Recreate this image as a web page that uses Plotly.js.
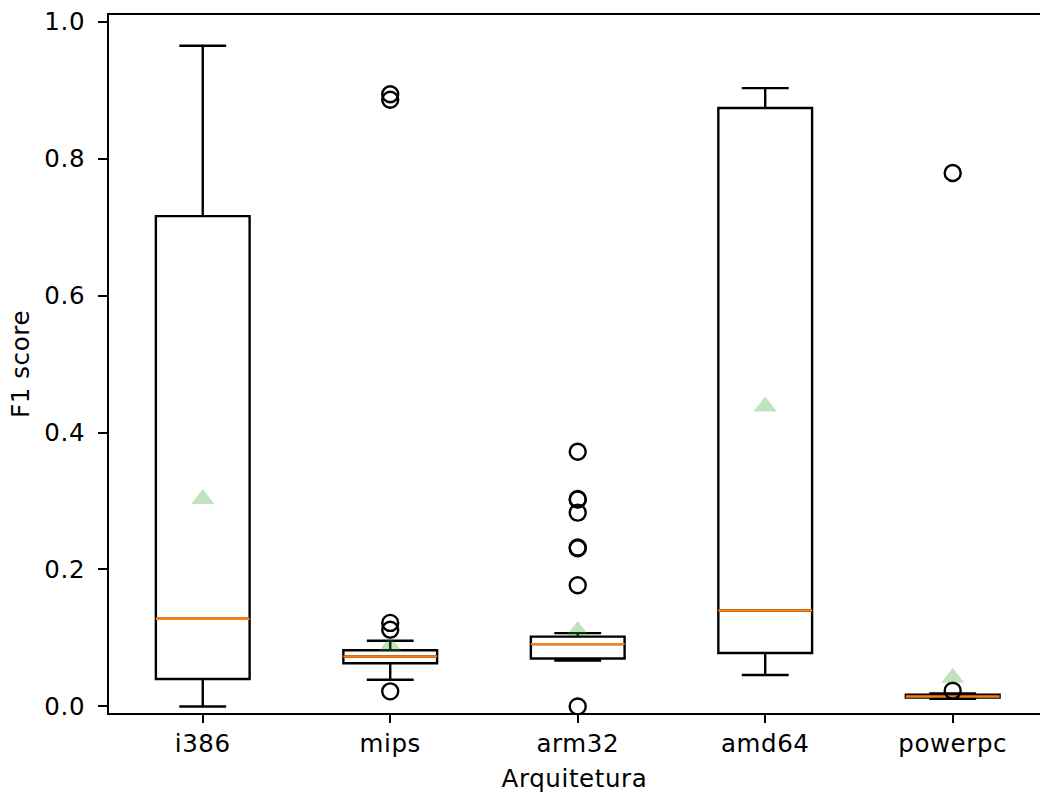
<!DOCTYPE html>
<html>
<head>
<meta charset="utf-8">
<script src="https://cdn.plot.ly/plotly-3.0.1.min.js"></script>
<style>html,body{margin:0;padding:0;background:#fff;}#chart{width:1040px;height:796px;}
#chart svg text{letter-spacing:0.6px;}</style>
</head>
<body>
<div id="chart"></div>
<script>
const categories = ["i386", "mips", "arm32", "amd64", "powerpc"];
const positions = [1, 2, 3, 4, 5];
const lowerWhisker = [0.0, 0.039, 0.067, 0.046, 0.011];
const q1 = [0.040, 0.063, 0.070, 0.078, 0.013];
const medians = [0.128, 0.073, 0.091, 0.140, 0.0146];
const q3 = [0.716, 0.082, 0.102, 0.874, 0.017];
const upperWhisker = [0.965, 0.096, 0.107, 0.903, 0.019];
const means = [0.303, 0.088, 0.110, 0.438, 0.042];
const outliers = [
  [],
  [0.022, 0.112, 0.122, 0.886, 0.894],
  [0.0, 0.177, 0.231, 0.232, 0.283, 0.302, 0.303, 0.372],
  [],
  [0.023, 0.779]
];

const FONT = "DejaVu Sans";
const FS = 24.5;
const LW = 2.4;
const halfWidth = 0.25;

const traces = [];
traces.push({
  type: "box",
  x: positions,
  q1: q1, median: medians, q3: q3,
  lowerfence: lowerWhisker, upperfence: upperWhisker,
  width: 0.5,
  whiskerwidth: 0.5,
  boxpoints: false,
  fillcolor: "rgba(255,255,255,0)",
  line: {color: "#000", width: LW},
  hoverinfo: "skip",
  showlegend: false
});
// medians (orange)
const mx = [], my = [];
positions.forEach((p, i) => {
  mx.push(p - halfWidth, p + halfWidth, null);
  my.push(medians[i], medians[i], null);
});
traces.push({
  type: "scatter", mode: "lines", x: mx, y: my,
  line: {color: "#ff7f0e", width: LW}, showlegend: false, hoverinfo: "skip"
});
// outliers
const ox = [], oy = [];
outliers.forEach((arr, i) => arr.forEach(v => { ox.push(positions[i]); oy.push(v); }));
traces.push({
  type: "scatter", mode: "markers", x: ox, y: oy,
  marker: {symbol: "circle-open", size: 16, color: "#000", line: {color: "#000", width: LW}},
  showlegend: false, hoverinfo: "skip"
});
// means
traces.push({
  type: "scatter", mode: "markers", x: positions, y: means,
  marker: {symbol: "triangle-up", size: 20, color: "rgba(44,160,44,0.3)", line: {width: 0}},
  showlegend: false, hoverinfo: "skip"
});

const layout = {
  width: 1040, height: 796,
  margin: {l: 109, r: 0, t: 15, b: 83, pad: 0},
  paper_bgcolor: "#fff", plot_bgcolor: "#fff",
  font: {family: FONT, size: FS, color: "#000"},
  xaxis: {
    range: [0.5, 5.4656],
    tickvals: positions, ticktext: categories,
    showgrid: false, zeroline: false,
    showline: true, linecolor: "#000", linewidth: 2, mirror: true,
    ticks: "outside", ticklen: 8, tickwidth: 2, tickcolor: "#000",
    tickfont: {family: FONT, size: FS, color: "#000"},
    title: {text: "Arquitetura", font: {family: FONT, size: FS, color: "#000"}, standoff: 12}
  },
  yaxis: {
    range: [-0.0096, 1.0098],
    tickvals: [0, 0.2, 0.4, 0.6, 0.8, 1.0],
    ticktext: ["0.0", "0.2", "0.4", "0.6", "0.8", "1.0"],
    showgrid: false, zeroline: false,
    showline: true, linecolor: "#000", linewidth: 2, mirror: false,
    ticks: "outside", ticklen: 9, tickwidth: 2, tickcolor: "#000",
    ticklabelstandoff: 8,
    tickfont: {family: FONT, size: FS, color: "#000"},
    title: {text: "F1 score", font: {family: FONT, size: FS, color: "#000"}, standoff: 10}
  }
};

Plotly.newPlot("chart", traces, layout, {staticPlot: true, displayModeBar: false});
</script>
</body>
</html>
